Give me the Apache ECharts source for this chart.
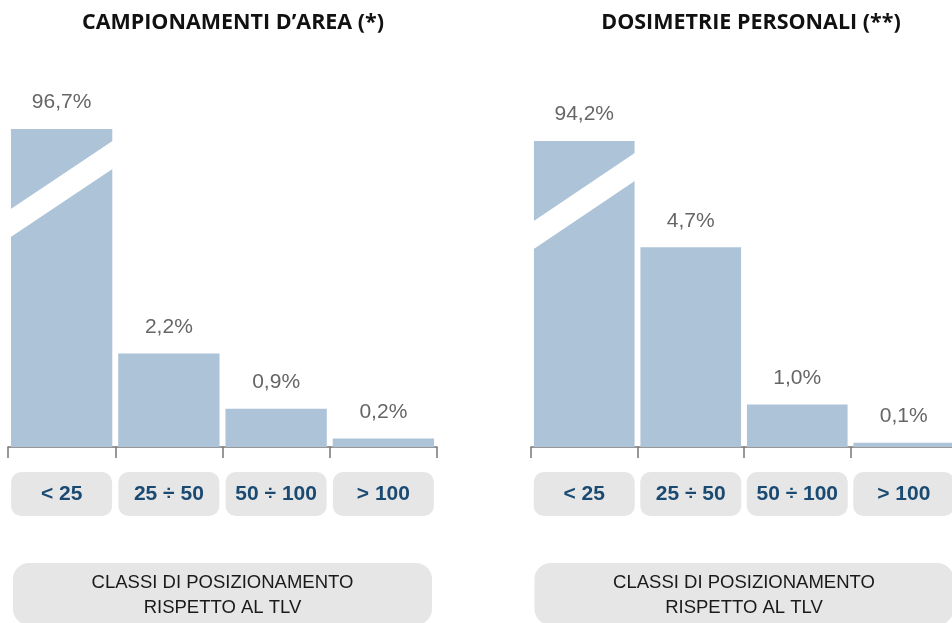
<!DOCTYPE html>
<html>
<head>
<meta charset="utf-8">
<script src="https://cdn.jsdelivr.net/npm/echarts@6.0.0/dist/echarts.min.js"></script>
<style>
    html, body { margin: 0; padding: 0; background: #fff; }
    #main { width: 952px; height: 623px; }
</style>
</head>
<body>
<div id="main"></div>
<script>
// dati
var categories = ['< 25', '25 ÷ 50', '50 ÷ 100', '> 100'];
var panelTitles = ['CAMPIONAMENTI D’AREA (*)', 'DOSIMETRIE PERSONALI (**)'];
var areaValues = [96.7, 2.2, 0.9, 0.2];
var personalValues = [94.2, 4.7, 1.0, 0.1];
var axisTitleLines = ['CLASSI DI POSIZIONAMENTO', 'RISPETTO AL TLV'];

var myChart = echarts.init(document.getElementById('main'));

var barColor = '#adc3d8';
var boxColor = '#e6e6e6';
var gapRatio = 0.055;

// asse y "spezzato": la prima barra viene tagliata in cima al grid
var yMax = [7.48, 7.2];
var grids = [
    { left: 8, width: 429, top: 129, bottom: 176, outerBoundsMode: 'none' },
    { left: 531, width: 426, top: 141, bottom: 176, outerBoundsMode: 'none' }
];
var titleX = [233, 751];
var seriesValues = [areaValues, personalValues];

function fmt(v) {
    return v.toFixed(1).replace('.', ',') + '%';
}

// banda bianca diagonale sulle barre fuori scala
function renderBreak(params, api) {
    var cs = params.coordSys;
    var top = api.coord([api.value(0), api.value(1)])[1];
    if (top >= cs.y) {
        return null;
    }
    var cx = api.coord([api.value(0), 0])[0];
    var w = api.size([1, 0])[0] * (1 - gapRatio);
    var x0 = cx - w / 2 - 2, x1 = cx + w / 2 + 2;
    var slope = 68 / w;
    var yLeft = cs.y + 80 + 2 * slope, yRight = cs.y + 12 - 2 * slope;
    return {
        type: 'polygon',
        shape: {
            points: [[x0, yLeft], [x1, yRight], [x1, yRight + 28], [x0, yLeft + 28]]
        },
        style: { fill: '#fff' },
        silent: true
    };
}

var xAxes = [], yAxes = [], series = [], titles = [];
for (var i = 0; i < 2; i++) {
    titles.push({
        text: panelTitles[i],
        left: titleX[i],
        top: 12,
        textAlign: 'center',
        padding: 0,
        textStyle: { fontFamily: 'Open Sans', fontWeight: 'bold', fontSize: 21.5, color: '#111' }
    });
    xAxes.push({
        type: 'category',
        gridIndex: i,
        data: categories,
        axisLine: { lineStyle: { color: '#777', width: 1.5 } },
        axisTick: { show: true, length: 11, lineStyle: { color: '#777', width: 1.5 } },
        axisLabel: {
            margin: 25,
            width: 101,
            height: 44,
            lineHeight: 44,
            align: 'center',
            backgroundColor: boxColor,
            borderRadius: 10,
            fontFamily: 'Liberation Sans',
            fontWeight: 'bold',
            fontSize: 21,
            color: '#1a4a72'
        },
        name: axisTitleLines.map(function (s) { return '{t|' + s + '}'; }).join('\n'),
        nameLocation: 'middle',
        nameGap: 116,
        nameTextStyle: {
            padding: [7, 0, 5, 0],
            align: 'center',
            verticalAlign: 'top',
            backgroundColor: boxColor,
            borderRadius: 16,
            rich: {
                t: {
                    width: 419,
                    lineHeight: 25,
                    align: 'center',
                    fontFamily: 'Liberation Sans',
                    fontSize: 18.5,
                    color: '#1a1a1a'
                }
            }
        }
    });
    yAxes.push({
        type: 'value',
        gridIndex: i,
        min: 0,
        max: yMax[i],
        show: false
    });
    series.push({
        type: 'bar',
        xAxisIndex: i,
        yAxisIndex: i,
        data: seriesValues[i],
        barCategoryGap: (gapRatio * 100) + '%',
        clip: true,
        itemStyle: { color: barColor },
        label: {
            show: true,
            position: 'top',
            distance: 16,
            formatter: function (p) { return fmt(p.value); },
            fontFamily: 'Liberation Sans',
            fontSize: 21,
            color: '#666'
        },
        silent: true
    });
    series.push({
        type: 'custom',
        xAxisIndex: i,
        yAxisIndex: i,
        data: seriesValues[i].map(function (v, k) { return [k, v]; }),
        encode: { x: 0, y: 1 },
        renderItem: renderBreak,
        z: 5,
        silent: true
    });
}

option = {
    animation: false,
    backgroundColor: '#fff',
    title: titles,
    grid: grids,
    xAxis: xAxes,
    yAxis: yAxes,
    series: series
};

myChart.setOption(option);
window.onresize = myChart.resize;
</script>
</body>
</html>
